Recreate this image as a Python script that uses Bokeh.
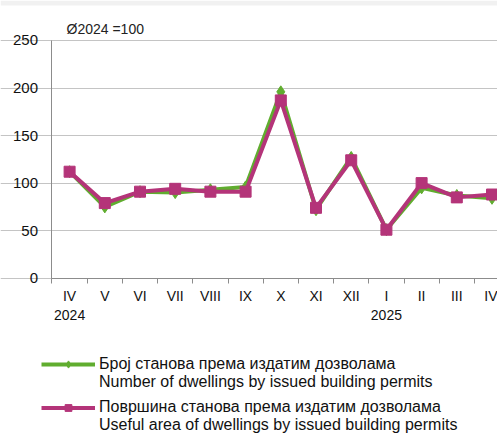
from bokeh.plotting import figure
from bokeh.models import (Range1d, FixedTicker, Legend, LegendItem, Label, BoxAnnotation)
from bokeh.embed import file_html
from bokeh.resources import INLINE

months = ["IV", "V", "VI", "VII", "VIII", "IX", "X", "XI", "XII", "I", "II", "III", "IV"]
years = ["2024", "2025"]
year_pos = [0, 9]
dwellings = [112, 75, 91, 90, 93, 96, 196, 72, 127, 51, 95, 87, 84]
area = [112, 79, 91, 94, 91, 91, 187, 74, 124, 51, 100, 85, 88]
y_ticks = [0, 50, 100, 150, 200, 250]
base_note = "Ø2024 =100"
name_green = ["Број станова према издатим дозволама", "Number of dwellings by issued building permits"]
name_purple = ["Површина станова према издатим дозволама", "Useful area of dwellings by issued building permits"]

GREEN = "#60ad2f"
PURPLE = "#b43479"
FONT = "Liberation Sans"
TXT = "#111111"
AX = "#8c8c8c"

x = list(range(len(months)))
n = len(months)

p = figure(width=497, height=434, output_backend="svg", toolbar_location=None,
           x_range=Range1d(-1.963, 12.156), y_range=Range1d(-164.4, 292.07),
           min_border_left=0, min_border_right=0, min_border_top=0, min_border_bottom=0)
p.outline_line_color = None
p.background_fill_color = "white"
p.border_fill_color = "white"
p.title.visible = False

# thin grey strip along the top edge
p.add_layout(BoxAnnotation(bottom=286.8, top=292.07, fill_color="#f1f1f1", fill_alpha=1,
                           line_alpha=0, level="underlay"))

p.add_layout(Label(x=-0.088, y=261.6, text=base_note, text_align="left", text_baseline="alphabetic",
                   text_font=FONT, text_font_size="14px", text_color="#222222"))

# axes placed at fixed data locations
p.yaxis.fixed_location = -0.5
p.yaxis.bounds = (0, 250)
p.yaxis.ticker = FixedTicker(ticks=y_ticks)
p.yaxis.major_tick_out = 0
p.yaxis.major_tick_in = 0
p.yaxis.minor_tick_out = 0
p.yaxis.minor_tick_in = 0
p.yaxis.axis_line_color = AX
p.yaxis.major_label_standoff = 14
p.yaxis.major_label_text_font = FONT
p.yaxis.major_label_text_font_size = "15px"
p.yaxis.major_label_text_color = TXT

p.xaxis.fixed_location = 0
p.xaxis.bounds = (-0.5, n - 0.5)
p.xaxis.ticker = FixedTicker(ticks=x, minor_ticks=[i - 0.5 for i in range(n + 1)])
p.xaxis.major_label_overrides = {i: m for i, m in enumerate(months)}
p.xaxis.major_tick_out = 0
p.xaxis.major_tick_in = 0
p.xaxis.minor_tick_out = 5
p.xaxis.minor_tick_in = 0
p.xaxis.minor_tick_line_color = AX
p.xaxis.axis_line_color = AX
p.xaxis.major_label_standoff = 5
p.xaxis.major_label_text_font = FONT
p.xaxis.major_label_text_font_size = "14px"
p.xaxis.major_label_text_color = TXT

p.xgrid.visible = False
p.ygrid.grid_line_color = "#c4c4c4"
p.ygrid.grid_line_width = 1
p.ygrid.bounds = (-0.5, n - 0.5)

for yr, pos in zip(years, year_pos):
    p.add_layout(Label(x=pos, y=-38.9, text=yr, text_align="center", text_baseline="alphabetic",
                       text_font=FONT, text_font_size="14px", text_color=TXT))

lg = p.line(x, dwellings, line_color=GREEN, line_width=4)
mg = p.scatter(x, dwellings, marker="diamond", size=12, fill_color=GREEN, line_color=GREEN)
lp = p.line(x, area, line_color=PURPLE, line_width=4)
mp = p.scatter(x, area, marker="square", size=11, fill_color=PURPLE, line_color=PURPLE)
dummy = p.line(x=[], y=[], line_alpha=0)


def make_legend(items, loc, h):
    return Legend(items=items, location=loc, orientation="vertical", spacing=0, padding=0, margin=0,
                  glyph_height=h, glyph_width=54, label_height=h, label_standoff=4,
                  border_line_alpha=0, background_fill_alpha=0,
                  label_text_font=FONT, label_text_font_size="16px", label_text_color=TXT)


leg1 = make_legend([LegendItem(label=name_green[0], renderers=[lg, mg]),
                    LegendItem(label=name_green[1], renderers=[dummy])], (41, 43), 18)
leg2 = make_legend([LegendItem(label=name_purple[0], renderers=[lp, mp]),
                    LegendItem(label=name_purple[1], renderers=[dummy])], (41, 0), 17)
p.add_layout(leg1)
p.add_layout(leg2)

open("out.html", "w").write(file_html(p, INLINE))
